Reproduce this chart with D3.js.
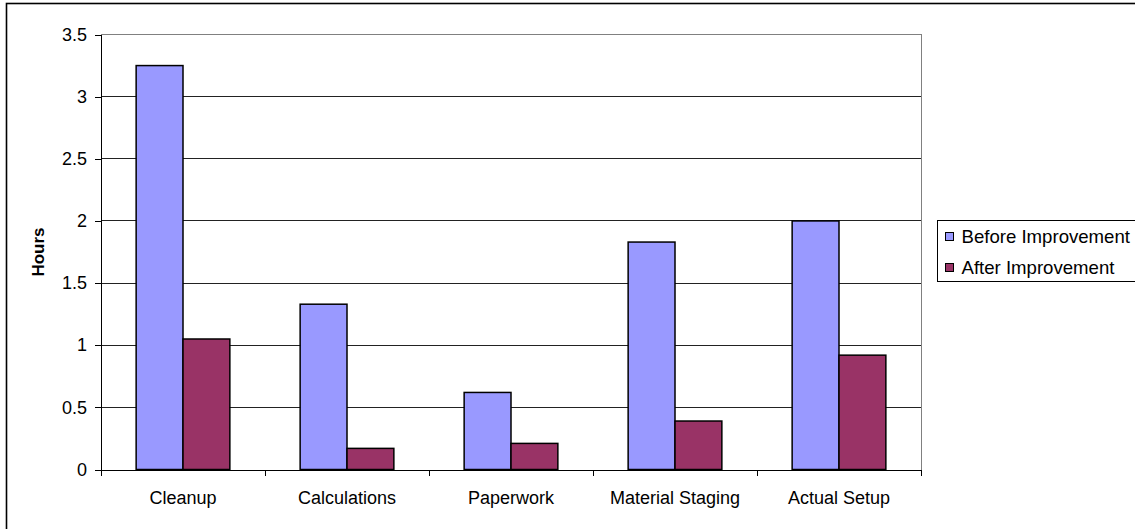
<!DOCTYPE html>
<html>
<head>
<meta charset="utf-8">
<script src="https://cdn.jsdelivr.net/npm/d3@7"></script>
<style>
  html, body { margin: 0; padding: 0; background: #fff; }
  svg { display: block; font-family: "Liberation Sans", Arial, sans-serif; }
</style>
</head>
<body>
<div id="chart"></div>
<script>
const categories = ["Cleanup", "Calculations", "Paperwork", "Material Staging", "Actual Setup"];
const seriesNames = ["Before Improvement", "After Improvement"];
const beforeValues = [3.25, 1.33, 0.62, 1.83, 2.0];
const afterValues = [1.05, 0.17, 0.21, 0.39, 0.92];
const yTicks = [0, 0.5, 1, 1.5, 2, 2.5, 3, 3.5];
const seriesColors = ["#9999FF", "#993366"];

function groupedBars({ margin, height, width, selector }) {
    const plotLeft = margin.left, plotRight = width - margin.right;
    const plotTop = margin.top, plotBottom = height - margin.bottom;

    let y = d3.scaleLinear()
        .domain([0, 3.5])
        .range([plotBottom, plotTop]);

    let x = d3.scaleBand()
        .domain(categories)
        .range([plotLeft, plotRight]);

    // excel style gap width 150%: band = 2 bars + 1.5 bar
    const bw = x.bandwidth();
    const gap = bw * 0.75 / 3.5;
    let x1 = d3.scaleBand()
        .domain(seriesNames)
        .range([gap, bw - gap]);

    const rows = categories.map((c, i) => ({
        label: c,
        values: [beforeValues[i], afterValues[i]]
    }));

    const svg = d3.select(selector)
        .append("svg")
        .attr("width", 1135)
        .attr("height", 529);

    // outer chart border
    svg.append("rect")
        .attr("x", 6.5).attr("y", 3.5)
        .attr("width", 1140).attr("height", 540)
        .attr("fill", "none")
        .attr("stroke", "#000")
        .attr("stroke-width", 1.6);

    // gridlines
    svg.append("g")
        .attr("shape-rendering", "crispEdges")
        .selectAll("line")
        .data(yTicks.filter(d => d > 0 && d < 3.5))
        .join("line")
        .attr("x1", plotLeft).attr("x2", plotRight)
        .attr("y1", d => y(d)).attr("y2", d => y(d))
        .attr("stroke", "#222");

    // plot area border (top and right)
    svg.append("path")
        .attr("shape-rendering", "crispEdges")
        .attr("d", `M${plotLeft},${y(3.5)}H${plotRight}V${y(0)}`)
        .attr("fill", "none")
        .attr("stroke", "#808080");

    // bars
    svg.append("g")
        .selectAll("g")
        .data(rows)
        .join("g")
        .attr("transform", d => `translate(${x(d.label)},0)`)
        .selectAll("rect")
        .data(d => d.values.map((v, j) => ({ key: seriesNames[j], value: v, j })))
        .join("rect")
        .attr("x", d => x1(d.key))
        .attr("y", d => y(d.value))
        .attr("width", x1.bandwidth())
        .attr("height", d => y(0) - y(d.value))
        .attr("fill", d => seriesColors[d.j])
        .attr("stroke", "#000")
        .attr("stroke-width", 1.5);

    // y axis
    svg.append("g")
        .attr("transform", `translate(${plotLeft},0)`)
        .call(d3.axisLeft(y).tickValues(yTicks).tickFormat(d => String(d)).tickSize(6).tickSizeOuter(0).tickPadding(8))
        .attr("font-size", 18)
        .attr("font-family", null)
        .call(g => g.selectAll("line, path").attr("stroke", "#000").attr("shape-rendering", "crispEdges"))
        .call(g => g.selectAll("text").attr("fill", "#000"));

    // x axis
    svg.append("g")
        .attr("transform", `translate(0,${plotBottom})`)
        .call(d3.axisBottom(x).tickSize(0).tickPadding(0).tickFormat(d => d))
        .attr("font-size", 18)
        .attr("font-family", null)
        .call(g => g.select(".domain").attr("stroke", "#000").attr("shape-rendering", "crispEdges"))
        .call(g => g.selectAll("text").attr("fill", "#000").attr("dy", null).attr("y", 34));

    // x tick marks between categories
    svg.append("g")
        .attr("shape-rendering", "crispEdges")
        .selectAll("line")
        .data(categories.concat([null]))
        .join("line")
        .attr("x1", d => d ? x(d) : plotRight)
        .attr("x2", d => d ? x(d) : plotRight)
        .attr("y1", plotBottom).attr("y2", plotBottom + 6)
        .attr("stroke", "#000");

    // y axis title
    svg.append("text")
        .attr("transform", `translate(44,${(plotTop + plotBottom) / 2}) rotate(-90)`)
        .attr("text-anchor", "middle")
        .attr("font-size", 17)
        .attr("font-weight", "bold")
        .text("Hours");

    // legend
    const legend = svg.append("g")
        .attr("transform", "translate(937.5,220.5)");

    legend.append("rect")
        .attr("width", 210).attr("height", 61)
        .attr("fill", "#fff")
        .attr("stroke", "#000");

    const item = legend.selectAll("g")
        .data(seriesNames)
        .join("g")
        .attr("transform", (d, i) => `translate(8,${16 + i * 31})`);

    item.append("rect")
        .attr("x", 0).attr("y", -4)
        .attr("width", 8).attr("height", 8)
        .attr("fill", (d, i) => seriesColors[i])
        .attr("stroke", "#000");

    item.append("text")
        .attr("x", 16)
        .attr("dy", "0.35em")
        .attr("font-size", 18.6)
        .text(d => d);
}

groupedBars({
    margin: { top: 34.5, right: 214, bottom: 59.5, left: 101 },
    height: 529,
    width: 1135,
    selector: "#chart"
});
</script>
</body>
</html>
